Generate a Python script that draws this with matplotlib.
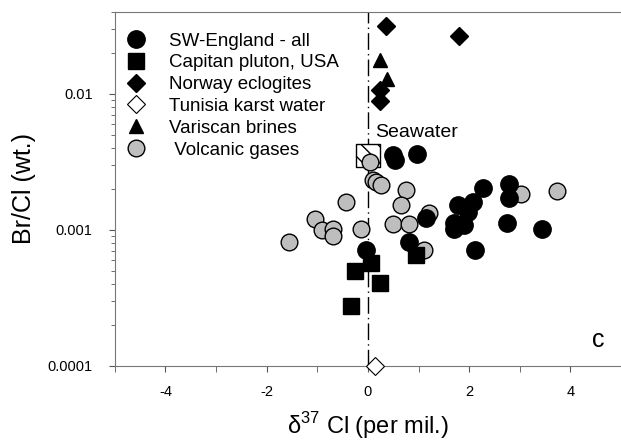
import matplotlib
import matplotlib.pyplot as plt
from matplotlib.ticker import FixedLocator, NullFormatter

matplotlib.use("Agg")
plt.rcParams['font.family'] = ['Liberation Sans', 'DejaVu Sans']

# SW-England - all
sw_x = [-0.03, 0.82, 1.15, 0.49, 0.53, 0.96, 2.28, 2.79, 2.79, 1.77, 2.07, 1.97,
        1.71, 1.71, 1.90, 2.74, 3.43, 2.12]
sw_y = [0.00071, 0.00081, 0.00122, 0.00356, 0.00327, 0.00362, 0.00203, 0.00217,
        0.00171, 0.00153, 0.00161, 0.00136, 0.00112, 0.00101, 0.00109, 0.00112,
        0.00101, 0.00071]

# Capitan pluton, USA
cap_x = [0.07, -0.26, 0.23, -0.34, 0.95]
cap_y = [0.000575, 0.0005, 0.00041, 0.000277, 0.000655]

# Norway eclogites
nor_x = [0.36, 1.79, 0.23, 0.23]
nor_y = [0.0316, 0.0268, 0.0107, 0.0089]

# Tunisia karst water
tun_x = [0.14]
tun_y = [0.0001]

# Variscan brines
var_x = [0.23, 0.37]
var_y = [0.0178, 0.0129]

# Volcanic gases
vol_x = [-1.56, -1.05, -0.91, -0.69, -0.69, -0.44, -0.14, 0.05, 0.10, 0.16, 0.25,
         0.75, 0.66, 0.49, 0.81, 1.20, 1.10, 3.02, 3.74]
vol_y = [0.00081, 0.0012, 0.0010, 0.00101, 0.00090, 0.00161, 0.00101, 0.00318,
         0.00233, 0.00223, 0.00214, 0.00195, 0.00153, 0.00111, 0.00111, 0.00133,
         0.00071, 0.00183, 0.00194]

# Seawater
sea_x = [0.0]
sea_y = [0.0035]

fig = plt.figure(figsize=(6.21, 4.44), dpi=100)
ax = fig.add_axes([0.185, 0.176, 0.815, 0.797])

ax.plot([0, 0], [0.0001, 0.04], color='black', lw=1.0, ls=(0, (12, 3, 1, 3)), zorder=1)

ax.plot(vol_x, vol_y, 'o', ms=12, mfc='#bebebe', mec='black', mew=1.0,
        ls='none', label=' Volcanic gases', zorder=3)
ax.plot(sw_x, sw_y, 'o', ms=12.5, color='black', ls='none', label='SW-England - all', zorder=4)
ax.plot(cap_x, cap_y, 's', ms=11, color='black', ls='none', label='Capitan pluton, USA', zorder=4)
ax.plot(nor_x, nor_y, 'D', ms=9.5, color='black', ls='none', label='Norway eclogites', zorder=4)
ax.plot(tun_x, tun_y, 'D', ms=9.5, mfc='white', mec='black', mew=0.8, ls='none',
        label='Tunisia karst water', zorder=5, clip_on=False)
ax.plot(var_x, var_y, '^', ms=10, color='black', ls='none', label='Variscan brines', zorder=4)
ax.scatter(sea_x, sea_y, s=280, marker='s', facecolor='white', edgecolor='black',
           hatch='\\\\', linewidth=1.0, zorder=2)
ax.text(0.15, 0.0052, 'Seawater', fontsize=14, va='center', ha='left')
ax.text(4.55, 0.000155, 'c', fontsize=18, va='center', ha='center')

ax.set_yscale('log')
ax.set_xlim(-5, 5)
ax.set_ylim(0.0001, 0.04)
ax.set_xticks([-4, -2, 0, 2, 4])
ax.set_xticklabels(['-4', '-2', '0', '2', '4'])
ax.xaxis.set_minor_locator(FixedLocator([-5, -3, -1, 1, 3, 5]))
ax.set_yticks([0.0001, 0.001, 0.01])
ax.set_yticklabels(['0.0001', '0.001', '0.01'])
ax.tick_params(axis='both', which='both', direction='out', colors='#555555',
               labelcolor='black', labelsize=10.5)
ax.tick_params(axis='x', which='major', length=4, pad=10)
ax.tick_params(axis='x', which='minor', length=4)
ax.tick_params(axis='y', which='major', length=4, pad=12)
ax.tick_params(axis='y', which='minor', length=3)
ax.yaxis.set_minor_formatter(NullFormatter())
for s in ['left', 'bottom', 'top']:
    ax.spines[s].set_color('#777777')
ax.spines['right'].set_visible(False)

ax.set_xlabel(r'δ$^{\mathregular{37}}$ Cl (per mil.)', fontsize=17, labelpad=8)
ax.set_ylabel('Br/Cl (wt.)', fontsize=18, labelpad=8)

handles, labels = ax.get_legend_handles_labels()
order = [1, 2, 3, 4, 5, 0]
ax.legend([handles[i] for i in order], [labels[i] for i in order], loc='upper left',
          bbox_to_anchor=(-0.02, 0.99), frameon=False, fontsize=13.5, handletextpad=1.0,
          labelspacing=0.25, handlelength=1.5)

plt.savefig("out.png")
